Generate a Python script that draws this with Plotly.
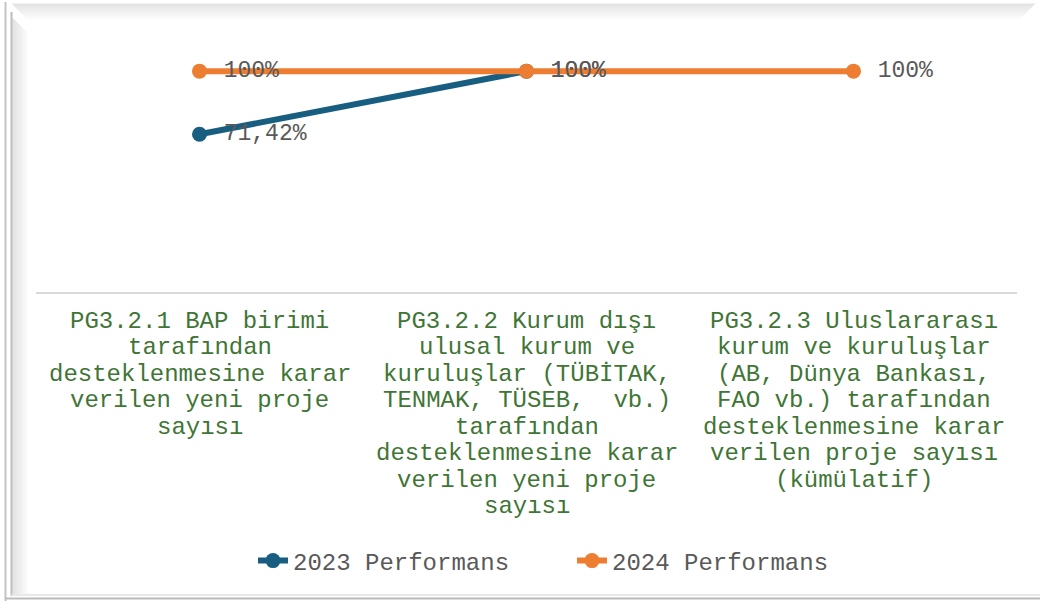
import plotly.graph_objects as go

categories = [
    "PG3.2.1 BAP birimi<br>tarafından<br>desteklenmesine karar<br>verilen yeni proje<br>sayısı",
    "PG3.2.2 Kurum dışı<br>ulusal kurum ve<br>kuruluşlar (TÜBİTAK,<br>TENMAK, TÜSEB,  vb.)<br>tarafından<br>desteklenmesine karar<br>verilen yeni proje<br>sayısı",
    "PG3.2.3 Uluslararası<br>kurum ve kuruluşlar<br>(AB, Dünya Bankası,<br>FAO vb.) tarafından<br>desteklenmesine karar<br>verilen proje sayısı<br>(kümülatif)",
]
series_names = ["2023 Performans", "2024 Performans"]
values_2023 = [71.42, 100, None]
values_2024 = [100, 100, 100]
colors = ["#175E80", "#ED7D31"]

FONT = "Liberation Mono, Courier New, monospace"
W, H = 1040, 603
L, R, T, B = 36, 23, 27, 311
pw, ph = W - L - R, H - T - B


def fmt(v):
    if v is None:
        return ""
    if float(v).is_integer():
        return f"\u00a0{int(v)}%"
    return "\u00a0" + f"{v:.2f}".replace(".", ",") + "%"


xs = list(range(len(categories)))
fig = go.Figure()
for name, vals, col in zip(series_names, [values_2023, values_2024], colors):
    fig.add_trace(go.Scatter(
        x=xs, y=vals, name=name, mode="lines+markers+text",
        line=dict(color=col, width=6),
        marker=dict(color=col, size=15),
        text=[fmt(v) for v in vals],
        textposition="middle right",
        textfont=dict(family=FONT, size=23, color="#595959"),
        cliponaxis=False,
    ))


def px_x(p):
    return (p - L) / pw


def px_y(p):
    return (H - B - p) / ph


# category labels, one annotation per line, anchored on the x axis scale
annotations = []
for i, cat in enumerate(categories):
    for k, line in enumerate(cat.split("<br>")):
        annotations.append(dict(
            x=xs[i], xref="x", y=0, yref="paper",
            yshift=-(29 + 26.5 * k), yanchor="middle", xanchor="center",
            text=line.replace("  ", "\u00a0 "), showarrow=False,
            font=dict(family=FONT, size=24, color="#3F7535"),
        ))

shapes = []
gray = "#C4C4C4"
shapes.append(dict(type="line", xref="paper", yref="paper", x0=px_x(5.5), x1=px_x(5.5), y0=px_y(2), y1=px_y(601), line=dict(color=gray, width=2)))
shapes.append(dict(type="line", xref="paper", yref="paper", x0=px_x(11.5), x1=px_x(11.5), y0=px_y(12), y1=px_y(596), line=dict(color="#BDBDBD", width=2)))
shapes.append(dict(type="line", xref="paper", yref="paper", x0=px_x(5), x1=px_x(1040), y0=px_y(598.5), y1=px_y(598.5), line=dict(color="#BBBBBB", width=2)))
shapes.append(dict(type="line", xref="paper", yref="paper", x0=px_x(11), x1=px_x(1040), y0=px_y(595), y1=px_y(595), line=dict(color="#E0E0E0", width=1.5)))
for i in range(16):
    op = 0.28 * (1 - i / 16)
    shapes.append(dict(type="line", xref="paper", yref="paper",
                       x0=px_x(12 + i), x1=px_x(1035 - i),
                       y0=px_y(4 + i), y1=px_y(4 + i),
                       line=dict(color=f"rgba(150,150,150,{op:.3f})", width=1)))
    shapes.append(dict(type="line", xref="paper", yref="paper",
                       x0=px_x(13 + i), x1=px_x(13 + i),
                       y0=px_y(18 + i), y1=px_y(594),
                       line=dict(color=f"rgba(150,150,150,{op:.3f})", width=1)))

fig.update_layout(
    width=W, height=H,
    margin=dict(l=L, r=R, t=T, b=B, autoexpand=False),
    paper_bgcolor="white", plot_bgcolor="white",
    showlegend=True,
    legend=dict(orientation="h", x=px_x(253), xanchor="left", y=px_y(561), yanchor="middle",
                font=dict(family=FONT, size=24, color="#595959"),
                entrywidth=274, entrywidthmode="pixels", tracegroupgap=0),
    xaxis=dict(range=[-0.5, 2.5], tickmode="array", tickvals=xs, showticklabels=False,
               showgrid=False, zeroline=False, showline=True, linecolor="#D9D9D9", linewidth=2,
               ticks="", fixedrange=True, automargin=False),
    yaxis=dict(range=[0, 120], visible=False, showgrid=False, zeroline=False, automargin=False,
               fixedrange=True),
    shapes=shapes,
    annotations=annotations,
)

fig.write_html("out.html", config={"displayModeBar": False},
               post_script="document.body.style.margin='0';")
